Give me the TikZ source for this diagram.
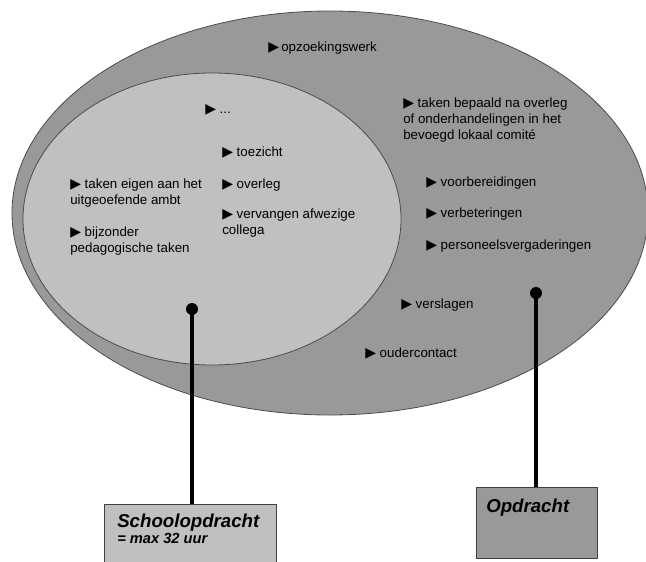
\documentclass[tikz,border=0pt]{standalone}
\usepackage{fontspec}
\setmainfont{Liberation Sans}
\newfontfamily\pijlfont{DejaVu Sans}
\definecolor{opdrachtgrijs}{HTML}{999999}
\definecolor{schoolgrijs}{HTML}{C0C0C0}
\newcommand{\pijl}{{\pijlfont\fontsize{10.5}{12}\selectfont\char"25B6}}

\begin{document}
\begin{tikzpicture}[x=0.75pt,y=-0.75pt,
    item/.style={anchor=north west,inner sep=0pt,align=left,font=\fontsize{10}{12}\selectfont},
    vak/.style={draw=black!75,line width=0.75pt,anchor=north west,inner sep=0pt},
    vaktekst/.style={anchor=north west,inner sep=0pt,align=left},
    stip/.style={fill=black,circle,inner sep=0pt,minimum size=9pt},
    lijn/.style={line width=2.4pt}]
    \clip (0,0) rectangle (646,561);
    \draw[fill=opdrachtgrijs,draw=black!70,line width=0.6pt] (330,213) ellipse [x radius=318,y radius=202];
    \draw[fill=schoolgrijs,draw=black!70,line width=0.6pt] (212,219) ellipse [x radius=189,y radius=146];
    \node[item] (opzoek) at (268,42) {\pijl\,opzoekingswerk};
    \node[item] (puntjes) at (205,104) {\pijl\ ...};
    \node[item] (bepaald) at (403,98) {\pijl\ taken bepaald na overleg\\of onderhandelingen in het\\bevoegd lokaal comité};
    \node[item] (toezicht) at (222,147) {\pijl\ toezicht};
    \node[item] (overleg) at (222,179) {\pijl\ overleg};
    \node[item] (vervangen) at (222,209) {\pijl\ vervangen afwezige\\collega};
    \node[item] (eigen) at (70,179) {\pijl\ taken eigen aan het\\uitgeoefende ambt};
    \node[item] (bijzonder) at (70,227) {\pijl\ bijzonder\\pedagogische taken};
    \node[item] (voorbereiding) at (426,177) {\pijl\ voorbereidingen};
    \node[item] (verbetering) at (426,208) {\pijl\ verbeteringen};
    \node[item] (vergadering) at (426,240) {\pijl\ personeelsvergaderingen};
    \node[item] (verslagen) at (401,299) {\pijl\ verslagen};
    \node[item] (ouder) at (365,348) {\pijl\ oudercontact};
    \node[vak,fill=schoolgrijs,minimum width=129pt,minimum height=50pt] (schoolbox) at (104,504) {};
    \node[vak,fill=opdrachtgrijs,minimum width=90.75pt,minimum height=53.25pt] (opdrachtbox) at (476,487) {};
    \node[vaktekst] (schooltekst) at (117,514) {{\fontsize{14}{16}\selectfont\bfseries\itshape Schoolopdracht}\\{\fontsize{11}{13}\selectfont\bfseries\itshape = max 32 uur}};
    \node[vaktekst,font=\fontsize{14}{16}\selectfont\bfseries\itshape] (opdrachttekst) at (486,499) {Opdracht};
    \node[stip] (schoolstip) at (192,309) {};
    \node[stip] (opdrachtstip) at (536,293) {};
    \draw[lijn] (schoolstip.center) -- (schoolstip.center |- schoolbox.north);
    \draw[lijn] (opdrachtstip.center) -- (opdrachtstip.center |- opdrachtbox.north);
\end{tikzpicture}
\end{document}
